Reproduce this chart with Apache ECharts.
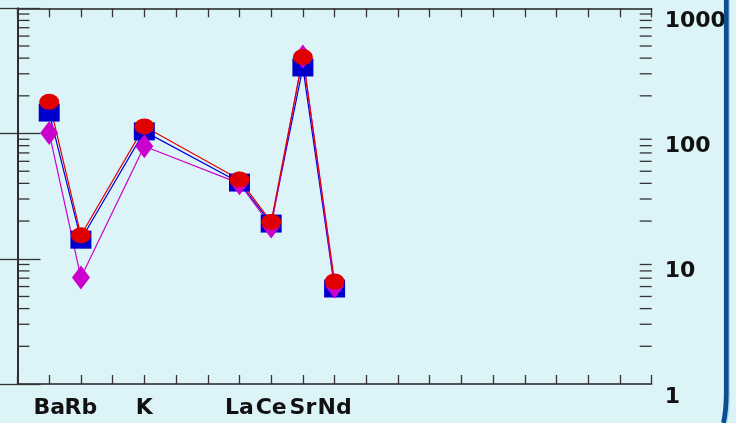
<!DOCTYPE html>
<html><head><meta charset="utf-8">
<script src="https://cdn.jsdelivr.net/npm/echarts@6/dist/echarts.min.js"></script>
<style>html,body{margin:0;padding:0;background:#dcf4f8;}#c{width:736px;height:423px;}</style>
</head><body><div id="c"></div>
<script>
const elements = ['Ba', 'Rb', 'K', 'La', 'Ce', 'Sr', 'Nd'];
const positions = [1, 2, 4, 7, 8, 9, 10];
const seriesBlue = [147, 14.2, 104, 40.6, 19.1, 337, 5.79];
const seriesMagenta = [101, 7.08, 79.2, 40, 18.1, 413, 6.0];
const seriesRed = [179, 15.4, 114, 42.9, 19.7, 408, 6.58];
const minorTickValues = [2, 3, 4, 5, 6, 7, 8, 9, 20, 30, 40, 50, 60, 70, 80, 90, 200, 300, 400, 500, 600, 700, 800, 900];
const yMin = 1, yMax = 1000;
const xMin = 0, xMax = 20;

const chart = echarts.init(document.getElementById('c'));
const font = '"DejaVu Sans", sans-serif';
const axisColor = '#222';
const tickColor = '#333';

function pts(vals) { return positions.map((p, i) => [p, vals[i]]); }

chart.setOption({
  backgroundColor: '#dcf4f8',
  animation: false,
  grid: { left: 17.5, right: 84.3, top: 8.3, bottom: 39, containLabel: false },
  xAxis: [
    { type: 'value', min: xMin, max: xMax, interval: 1, position: 'bottom',
      axisLine: { show: true, lineStyle: { color: axisColor, width: 1.5 } },
      axisTick: { show: true, inside: true, length: 9, lineStyle: { color: tickColor, width: 1.3 } },
      splitLine: { show: false },
      axisLabel: { show: true, margin: 13, fontSize: 22, fontWeight: 'bold', color: '#111', fontFamily: font,
        formatter: v => { const i = positions.indexOf(Math.round(v)); return i >= 0 ? elements[i] : ''; } } },
    { type: 'value', min: xMin, max: xMax, interval: 1, position: 'top',
      axisLine: { show: true, lineStyle: { color: axisColor, width: 1.5 } },
      axisTick: { show: true, inside: true, length: 9, lineStyle: { color: tickColor, width: 1.3 } },
      splitLine: { show: false }, axisLabel: { show: false } }
  ],
  yAxis: [
    { type: 'log', logBase: 10, min: yMin, max: yMax, position: 'right',
      axisLine: { show: true, lineStyle: { color: axisColor, width: 1.5 } },
      axisTick: { show: true, inside: true, length: 23, lineStyle: { color: tickColor, width: 1.3 } },
      minorTick: { show: false },
      splitLine: { show: false },
      axisLabel: { show: true, margin: 13, align: 'left', verticalAlign: 'top', padding: [2, 0, 0, 0], fontSize: 22, fontWeight: 'bold', color: '#111', fontFamily: font,
        formatter: v => String(Math.round(v)) } },
    { type: 'log', logBase: 10, min: yMin, max: yMax, position: 'left',
      axisLine: { show: true, lineStyle: { color: axisColor, width: 1.5 } },
      axisTick: { show: true, inside: true, length: 23, lineStyle: { color: tickColor, width: 1.3 } },
      minorTick: { show: false },
      splitLine: { show: false }, axisLabel: { show: false } }
  ],
  graphic: [
    { type: 'line', shape: { x1: 729.3, y1: 0, x2: 729.3, y2: 392 }, style: { stroke: '#a6d6ee', lineWidth: 1.4 }, z: 100 },
    { type: 'bezierCurve', shape: { x1: 729.3, y1: 392, cpx1: 729.3, cpy1: 411, x2: 726.5, y2: 423 }, style: { fill: null, stroke: '#a6d6ee', lineWidth: 1.4 }, z: 100 },
    { type: 'line', shape: { x1: 726.3, y1: 0, x2: 726.3, y2: 392 }, style: { stroke: '#0b4f91', lineWidth: 4.8 }, z: 101 },
    { type: 'bezierCurve', shape: { x1: 726.3, y1: 392, cpx1: 726.3, cpy1: 410, x2: 723.5, y2: 423 }, style: { fill: null, stroke: '#0b4f91', lineWidth: 4.8 }, z: 101 }
  ],
  series: [
    { type: 'custom', xAxisIndex: 0, yAxisIndex: 0, silent: true,
      data: minorTickValues.map(v => [xMin, v]),
      renderItem: (params, api) => {
        const v = api.value(1);
        const pL = api.coord([xMin, v]);
        const pR = api.coord([xMax, v]);
        const st = { stroke: tickColor, lineWidth: 1.3 };
        return { type: 'group', children: [
          { type: 'line', shape: { x1: pL[0], y1: pL[1], x2: pL[0] + 12, y2: pL[1] }, style: st },
          { type: 'line', shape: { x1: pR[0] - 12, y1: pR[1], x2: pR[0], y2: pR[1] }, style: st }
        ] };
      } },
    { type: 'line', name: 'blue', data: pts(seriesBlue), symbol: 'rect', symbolSize: [21, 18],
      itemStyle: { color: '#0000cc' }, lineStyle: { color: '#0000dd', width: 1.2 } },
    { type: 'line', name: 'magenta', data: pts(seriesMagenta), symbol: 'diamond', symbolSize: [18, 24],
      itemStyle: { color: '#cc00cc' }, lineStyle: { color: '#cc00cc', width: 1.2 } },
    { type: 'line', name: 'red', data: pts(seriesRed), symbol: 'circle', symbolSize: [20, 16],
      itemStyle: { color: '#e00000' }, lineStyle: { color: '#e00000', width: 1.2 } }
  ]
});
</script></body></html>
